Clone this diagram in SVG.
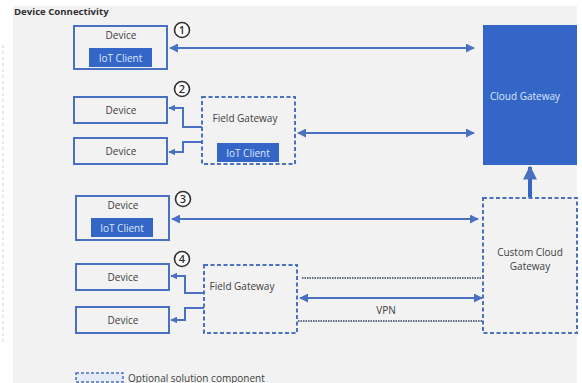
<svg xmlns="http://www.w3.org/2000/svg" width="582" height="383" viewBox="0 0 582 383">
  <style>
    text { font-family: "Open Sans", "Liberation Sans", Arial, sans-serif; fill: #404040; }
    .lbl { font-size: 10px; text-anchor: middle; }
    .wlbl { font-size: 10px; text-anchor: middle; fill: #dce6fa; }
    .box { fill: none; stroke: #4a70c2; stroke-width: 2; }
    .dash { fill: none; stroke: #4a70c2; stroke-width: 2; stroke-dasharray: 4 2.5; }
    .solid { fill: #3466c8; }
    .conn { fill: none; stroke: #4a70c2; stroke-width: 2; }
    .dot { fill: none; stroke: #606a84; stroke-width: 2; stroke-dasharray: 1.5 1; }
    .num { fill: #fff; stroke: #303030; stroke-width: 1.6; }
    .numt { font-size: 11px; font-weight: 600; text-anchor: middle; fill: #303030; }
  </style>
  <defs>
    <marker id="ah" viewBox="0 0 10 10" refX="9" refY="5" markerWidth="4.5" markerHeight="4.5" orient="auto-start-reverse">
      <path d="M0,0 L10,5 L0,10 z" fill="#4a70c2"/>
    </marker>
    <marker id="ahs" viewBox="0 0 10 10" refX="9" refY="5" markerWidth="3.5" markerHeight="3.5" orient="auto-start-reverse">
      <path d="M0,0 L10,5 L0,10 z" fill="#4a70c2"/>
    </marker>
  </defs>

  <!-- page and panel -->
  <rect x="0" y="0" width="582" height="383" fill="#ffffff"/>
  <rect x="13" y="6" width="564" height="377" fill="#f2f2f2"/>
  <line x1="3" y1="45" x2="3" y2="345" stroke="#d0d0d0" stroke-width="1" stroke-dasharray="3 3"/>
  <text x="14" y="15" style="font-size:9.6px;font-weight:bold;fill:#303030">Device Connectivity</text>

  <!-- connectors -->
  <g id="connectors">
    <line class="conn" x1="170" y1="48" x2="474" y2="48" marker-start="url(#ah)" marker-end="url(#ah)"/>
    <line class="conn" x1="298" y1="133" x2="474" y2="133" marker-start="url(#ah)" marker-end="url(#ah)"/>
    <polyline class="conn" points="202,127 183,127 183,108 169,108" marker-end="url(#ahs)"/>
    <polyline class="conn" points="202,142 183,142 183,152 169,152" marker-end="url(#ahs)"/>
    <line class="conn" x1="172" y1="219" x2="478" y2="219" marker-start="url(#ah)" marker-end="url(#ah)"/>
    <line x1="530" y1="197" x2="530" y2="167" stroke="#3466c8" stroke-width="4" marker-end="url(#ahs)"/>
    <polyline class="conn" points="204,293 185,293 185,276 171,276" marker-end="url(#ahs)"/>
    <polyline class="conn" points="204,308 185,308 185,320 171,320" marker-end="url(#ahs)"/>
    <line class="dot" x1="302" y1="278" x2="483" y2="278"/>
    <line class="dot" x1="298" y1="321" x2="483" y2="321"/>
    <line class="conn" x1="300" y1="298" x2="482" y2="298" marker-start="url(#ah)" marker-end="url(#ah)"/>
    <text class="lbl" x="386" y="314">VPN</text>
  </g>

  <!-- scenario 1 -->
  <g id="device1">
    <rect class="box" x="74" y="26" width="93" height="43"/>
    <text class="lbl" x="121" y="38.5">Device</text>
    <rect class="solid" x="89" y="48" width="63" height="19"/>
    <text class="wlbl" x="120.5" y="61.5">IoT Client</text>
  </g>
  <g id="num1">
    <circle class="num" cx="182" cy="30" r="7.5"/>
    <text class="numt" x="182" y="34">1</text>
  </g>

  <g id="cloud-gateway">
    <rect class="solid" x="483" y="25" width="94" height="140"/>
    <text class="wlbl" x="525" y="99.5">Cloud Gateway</text>
  </g>

  <!-- scenario 2 -->
  <g id="device2a">
    <rect class="box" x="74" y="97" width="93" height="26"/>
    <text class="lbl" x="121" y="113.5">Device</text>
  </g>
  <g id="device2b">
    <rect class="box" x="74" y="138" width="93" height="26"/>
    <text class="lbl" x="121" y="154.5">Device</text>
  </g>
  <g id="num2">
    <circle class="num" cx="182" cy="89" r="7.5"/>
    <text class="numt" x="182" y="93">2</text>
  </g>
  <g id="field-gateway2">
    <rect class="dash" x="202" y="97" width="93" height="67"/>
    <text class="lbl" x="245" y="121.5">Field Gateway</text>
    <rect class="solid" x="217" y="143" width="62" height="19"/>
    <text class="wlbl" x="248" y="156.5">IoT Client</text>
  </g>

  <!-- scenario 3 -->
  <g id="device3">
    <rect class="box" x="76" y="196" width="93" height="44"/>
    <text class="lbl" x="123" y="208.5">Device</text>
    <rect class="solid" x="91" y="218" width="62" height="19"/>
    <text class="wlbl" x="122" y="231.5">IoT Client</text>
  </g>
  <g id="num3">
    <circle class="num" cx="183" cy="199" r="7.5"/>
    <text class="numt" x="183" y="203">3</text>
  </g>
  <g id="custom-cloud-gateway">
    <rect class="dash" x="483" y="198" width="94" height="135"/>
    <text class="lbl" x="530" y="256">Custom Cloud</text>
    <text class="lbl" x="530" y="269.5">Gateway</text>
  </g>

  <!-- scenario 4 -->
  <g id="device4a">
    <rect class="box" x="76" y="264" width="93" height="26"/>
    <text class="lbl" x="123" y="280.5">Device</text>
  </g>
  <g id="device4b">
    <rect class="box" x="76" y="307" width="93" height="26"/>
    <text class="lbl" x="123" y="323.5">Device</text>
  </g>
  <g id="num4">
    <circle class="num" cx="182" cy="259" r="7.5"/>
    <text class="numt" x="182" y="263">4</text>
  </g>
  <g id="field-gateway4">
    <rect class="dash" x="204" y="265" width="93" height="68"/>
    <text class="lbl" x="242" y="289.5">Field Gateway</text>
  </g>

  <!-- legend -->
  <g id="legend">
    <rect x="76" y="373" width="47" height="9" fill="#e4eaf6" stroke="#4a70c2" stroke-width="1.5" stroke-dasharray="3 2"/>
    <text x="128" y="381.5" style="font-size:10px">Optional solution component</text>
  </g>
</svg>
